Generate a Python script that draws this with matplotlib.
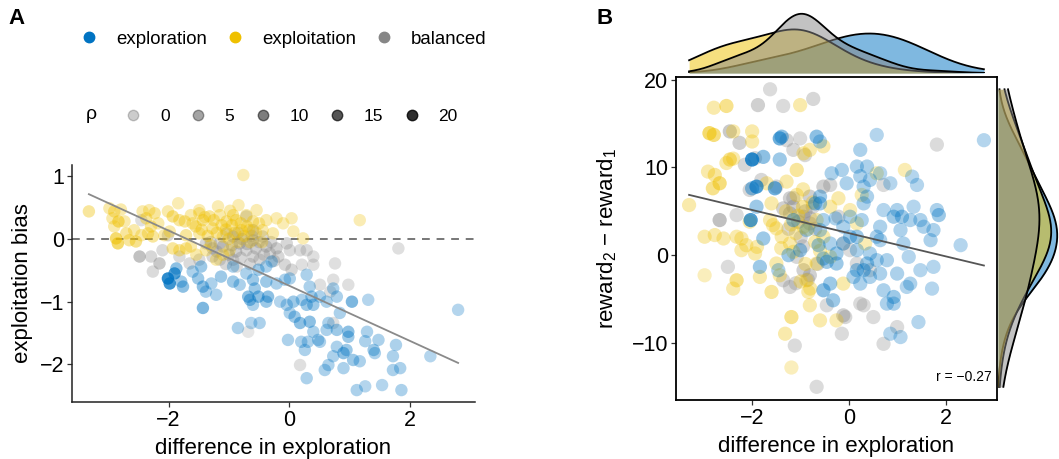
import numpy as np
import matplotlib
matplotlib.use("Agg")
import matplotlib.pyplot as plt
from matplotlib.lines import Line2D
from matplotlib.colors import to_rgb

plt.rcParams['font.family'] = ['Liberation Sans', 'DejaVu Sans']
plt.rcParams['mathtext.fontset'] = 'custom'
plt.rcParams['mathtext.rm'] = 'Liberation Sans'
plt.rcParams['mathtext.it'] = 'Liberation Sans:italic'
plt.rcParams['mathtext.default'] = 'regular'

# ---------------- data ----------------
groups = ['exploration', 'exploitation', 'balanced']
group_colors = {'exploration': '#0073C2', 'exploitation': '#EFC000', 'balanced': '#868686'}
rho_levels = [0, 5, 10, 15, 20]
rho_label = 'ρ'
xlabel = 'difference in exploration'
ylabel_a = 'exploitation bias'
ylabel_b = 'reward$_2$ − reward$_1$'
r_text = 'r = −0.27'

# panel A : (difference in exploration, exploitation bias, rho)
a_exploitation = [
    (-3.32, 0.44, 6), (-2.98, 0.49, 4), (-2.90, 0.44, 6), (-2.79, 0.47, 4), (-2.93, 0.33, 4),
    (-2.83, 0.28, 10), (-2.90, 0.20, 4), (-2.73, 0.28, 4), (-2.87, 0.01, 12), (-2.84, -0.07, 12),
    (-2.70, 0.09, 6), (-2.65, -0.02, 6), (-2.54, -0.04, 8), (-2.57, 0.14, 4), (-2.43, 0.44, 4),
    (-2.32, 0.46, 4), (-2.37, 0.33, 6), (-2.29, 0.20, 6), (-2.23, 0.41, 6), (-2.45, 0.06, 4),
    (-2.34, 0.09, 6), (-2.26, 0.04, 6), (-2.01, 0.44, 4), (-1.93, 0.36, 8), (-1.84, 0.57, 3),
    (-1.98, 0.12, 4), (-2.07, 0.06, 4), (-1.82, 0.30, 6), (-1.73, 0.28, 6), (-1.93, -0.15, 6),
    (-1.82, -0.18, 6), (-1.71, -0.15, 6), (-1.54, -0.25, 4), (-1.49, 0.41, 4), (-1.43, 0.30, 6),
    (-1.32, 0.36, 6), (-1.18, 0.52, 3), (-1.15, 0.38, 4), (-1.04, 0.28, 6), (-0.93, 0.38, 6),
    (-0.84, 0.54, 3), (-0.88, 0.30, 6), (-0.79, 0.14, 6), (-0.71, 0.38, 4), (-0.60, 0.28, 6),
    (-0.54, 0.46, 3), (-0.76, 1.02, 3), (-0.38, 0.30, 4), (-0.21, 0.33, 3), (-0.10, 0.25, 3),
    (0.04, 0.33, 3), (0.07, 0.12, 3), (0.23, 0.01, 3), (1.17, 0.30, 3), (-1.71, 0.06, 6),
    (-1.49, 0.09, 4), (-1.27, 0.17, 6), (-1.10, 0.04, 4), (-1.38, -0.18, 4), (-1.63, -0.12, 4),
    (-0.66, 0.14, 6), (-0.44, 0.14, 4), (-0.27, 0.09, 4), (-0.99, -0.18, 4), (-1.21, -0.33, 4),
    (-2.17, 0.25, 4), (-1.49, 0.46, 3), (-1.63, 0.38, 4),
    (-1.55, 0.20, 6), (-1.45, 0.15, 6), (-1.35, 0.05, 6), (-1.25, 0.30, 6), (-1.20, 0.10, 6),
    (-1.12, 0.22, 6), (-1.05, 0.15, 6), (-1.00, 0.00, 6), (-0.95, 0.22, 6), (-0.90, 0.10, 6),
    (-0.85, -0.05, 4), (-0.80, 0.25, 6), (-0.75, 0.05, 6), (-0.70, 0.20, 6), (-0.65, -0.05, 4),
    (-0.55, 0.10, 4), (-0.50, 0.25, 4), (-1.30, -0.10, 4), (-1.40, 0.35, 4), (-1.60, 0.25, 4),
    (-0.98, 0.45, 4), (-1.10, -0.25, 4), (-0.45, -0.05, 4),
]
a_balanced = [
    (-2.48, -0.28, 10), (-2.29, -0.28, 4), (-2.15, -0.39, 8), (-2.26, -0.52, 3), (-2.10, -0.18, 3),
    (-2.01, 0.06, 4), (-2.45, 0.30, 2), (-1.82, -0.28, 3), (-1.65, -0.39, 3), (-1.49, -0.33, 3),
    (-1.38, -0.07, 4), (-1.27, -0.15, 4), (-1.15, -0.07, 4), (-1.04, 0.09, 4), (-0.93, 0.04, 6),
    (-0.82, -0.07, 6), (-0.71, -0.18, 4), (-0.93, -0.33, 3), (-1.15, -0.33, 3), (-0.87, -0.44, 3),
    (-0.71, 0.36, 4), (-0.60, 0.14, 6), (-0.44, 0.04, 4), (-0.38, -0.12, 6), (-0.21, -0.15, 6),
    (-0.04, -0.07, 4), (0.01, -0.18, 3), (0.18, -0.18, 3), (0.29, -0.18, 3), (0.40, -0.28, 2),
    (-0.07, -0.41, 4), (0.04, -0.49, 4), (0.21, -0.41, 2), (0.40, -0.41, 2), (0.76, -0.39, 2),
    (0.73, -0.65, 2), (0.51, -0.73, 2), (0.98, -0.73, 2), (1.81, -0.15, 2), (0.18, -2.01, 2),
    (-0.68, -1.48, 0), (-0.18, -0.28, 4), (-0.32, -0.23, 4), (-0.60, -0.28, 4), (-0.49, -0.33, 4),
    (-1.27, -0.28, 4), (-0.60, -0.02, 6), (0.68, -0.84, 2), (0.73, -1.34, 2),
    (-1.20, -0.20, 4), (-1.10, -0.12, 6), (-1.00, -0.25, 6), (-0.95, -0.10, 6), (-0.88, -0.20, 6),
    (-0.80, -0.30, 4), (-0.78, 0.00, 6), (-0.70, -0.08, 6), (-0.65, -0.40, 4), (-0.55, -0.15, 6),
    (-0.50, -0.05, 4), (-0.42, -0.25, 4), (-0.30, -0.05, 4), (-0.25, -0.35, 4), (-1.05, -0.40, 4),
    (-0.85, 0.10, 4), (-1.30, -0.05, 4), (-0.62, 0.05, 4),
]
a_exploration = [
    (-2.01, -0.63, 20), (-1.98, -0.71, 18), (-1.90, -0.55, 16), (-1.87, -0.47, 8), (-1.76, -0.76, 8),
    (-1.79, -0.68, 6), (-1.46, -0.44, 6), (-1.51, -0.63, 6), (-1.43, -0.76, 8), (-1.38, -0.84, 4),
    (-1.43, -1.10, 10), (-1.21, -0.89, 4), (-1.13, -0.60, 6), (-0.93, -0.68, 6), (-0.85, -1.42, 4),
    (-0.63, -1.34, 3), (-0.49, -1.34, 4), (-0.68, -0.92, 8), (-0.65, -0.97, 8), (-0.51, -0.92, 8),
    (-0.35, -0.92, 8), (-0.38, -1.00, 6), (-0.60, -1.05, 4), (-0.71, -0.55, 4), (-0.60, -0.65, 6),
    (-0.51, -0.49, 6), (-0.38, -0.68, 6), (-0.29, -0.36, 4), (-0.21, -0.71, 4), (-0.07, -0.65, 4),
    (-0.15, -1.00, 3), (-0.04, -1.05, 4), (0.07, -1.00, 6), (0.01, -1.18, 4), (0.09, -1.24, 6),
    (0.18, -1.34, 8), (0.29, -0.57, 4), (0.34, -0.76, 4), (0.37, -0.92, 6), (0.40, -1.05, 6),
    (0.21, -0.97, 4), (0.29, -1.05, 6), (0.34, -1.32, 8), (0.51, -0.92, 4), (0.62, -1.00, 4),
    (0.73, -0.79, 4), (0.79, -0.92, 4), (0.65, -1.34, 4), (0.79, -1.45, 6), (0.84, -1.18, 4),
    (0.98, -1.48, 8), (1.04, -1.00, 10), (0.98, -1.56, 6), (1.31, -0.97, 3), (1.29, -1.48, 4),
    (1.26, -1.63, 4), (1.40, -1.77, 6), (1.48, -1.61, 4), (1.77, -1.69, 4), (1.72, -1.87, 4),
    (1.84, -2.06, 4), (1.72, -2.09, 4), (1.86, -2.41, 4), (1.54, -2.33, 3), (1.26, -2.35, 3),
    (1.12, -2.41, 4), (1.17, -1.95, 4), (1.06, -1.93, 6), (0.90, -1.82, 8), (0.90, -2.06, 4),
    (0.73, -1.87, 4), (0.65, -2.01, 4), (0.59, -2.09, 4), (0.48, -1.61, 4), (0.40, -1.48, 4),
    (0.31, -1.64, 4), (0.20, -1.64, 4), (0.26, -1.77, 4), (0.29, -2.22, 4), (-0.02, -1.61, 4),
    (2.34, -1.87, 3), (2.80, -1.13, 3), (0.95, -1.77, 6), (1.42, -1.82, 4), (0.79, -1.72, 4),
    (0.51, -1.64, 4), (0.62, -1.45, 4), (0.01, -0.63, 4), (-0.38, -0.44, 4), (-0.57, -0.79, 6),
    (-0.82, -0.73, 4), (-1.29, -0.71, 4), (-1.60, -0.52, 4), (-0.93, -0.44, 4),
]

# panel B : (difference in exploration, reward2 - reward1, rho)
b_exploitation = [
    (-3.30, 5.71, 4), (-2.98, -2.29, 2), (-2.98, 2.10, 4), (-2.88, 13.9, 12), (-2.79, 13.7, 10),
    (-2.91, 9.52, 4), (-2.79, 16.8, 4), (-2.53, 17.0, 8), (-2.77, 9.14, 6), (-2.67, 8.19, 10),
    (-2.81, 7.62, 8), (-2.77, 2.29, 4), (-2.59, 1.90, 4), (-2.46, 10.9, 8), (-2.53, 10.5, 4),
    (-2.39, 11.0, 4), (-2.39, 14.1, 4), (-2.32, 2.10, 4), (-2.22, 1.90, 4), (-2.22, 0.57, 4),
    (-2.32, -2.86, 8), (-2.39, -3.81, 4), (-2.00, 14.1, 4), (-2.00, 12.95, 4), (-1.90, 0.95, 4),
    (-1.94, 0.19, 4), (-2.12, 1.14, 4), (-1.84, -2.48, 4), (-1.60, -4.19, 6), (-1.50, -0.95, 4),
    (-1.50, 3.05, 4), (-1.60, 5.90, 4), (-1.57, 3.43, 4), (-1.70, 8.19, 4), (-1.29, 8.38, 4),
    (-1.08, 9.71, 6), (-1.01, 17.1, 4), (-1.19, -12.8, 2), (-1.32, -8.95, 4), (-1.19, -7.05, 8),
    (-1.15, 0.38, 4), (-0.94, 3.24, 4), (-1.08, 6.86, 4), (-0.88, -2.86, 4), (-0.84, -4.19, 4),
    (-0.81, -5.71, 4), (-0.60, -7.43, 4), (-0.94, 11.6, 4), (-0.81, 12.0, 4), (-0.53, 12.4, 4),
    (-0.39, 5.52, 4), (-0.22, 6.48, 4), (-0.12, -3.24, 4), (-0.26, -7.43, 3), (0.02, 5.14, 3),
    (0.16, 3.62, 3), (0.26, 6.86, 3), (0.33, 1.33, 3), (1.15, 9.71, 3), (0.57, 9.33, 3),
    (-1.22, 1.33, 4), (-1.43, -2.29, 4), (-0.67, 4.00, 4), (-0.53, 2.10, 4), (-1.39, 2.10, 4),
    (-2.05, 3.81, 4), (-1.63, 4.00, 4), (-0.67, -0.95, 4), (-0.39, -0.19, 4),
    (-1.20, 3.5, 4), (-1.05, 4.5, 6), (-0.95, 5.5, 6), (-0.85, 3.0, 4), (-0.75, 6.0, 4),
    (-0.70, 1.5, 4), (-1.10, 2.5, 4), (-0.90, -1.0, 4), (-1.00, -3.0, 4), (-0.80, -3.8, 4),
    (-1.30, 5.0, 4), (-0.60, 0.5, 4), (-1.40, 0.8, 4), (-0.95, 7.5, 4),
]
b_balanced = [
    (-1.63, 18.9, 3), (-1.88, 17.1, 6), (-1.36, 17.0, 3), (-0.74, 17.8, 4), (-2.67, 4.00, 10),
    (-2.46, 14.1, 8), (-2.26, 12.8, 6), (-2.15, 10.3, 4), (-2.32, 4.57, 3), (-2.50, -1.33, 3),
    (-1.94, 11.05, 4), (-2.05, 7.43, 4), (-1.81, 8.57, 4), (-1.50, 7.81, 4), (-1.15, 12.0, 4),
    (-1.01, 13.3, 3), (-0.91, 11.4, 4), (-1.15, 5.52, 6), (-0.94, 4.38, 6), (-1.22, 4.76, 6),
    (-1.36, 5.33, 6), (-0.81, 3.62, 4), (-0.53, 7.81, 6), (-0.39, 8.00, 4), (-0.22, 4.38, 4),
    (-0.12, 1.33, 4), (0.02, 0.57, 3), (0.23, -5.52, 3), (0.30, -5.71, 3), (0.50, -7.05, 3),
    (-0.12, -6.86, 6), (-0.08, -7.05, 4), (-0.15, -8.95, 3), (-1.12, -10.3, 3), (-0.67, -15.0, 3),
    (0.71, -10.1, 3), (0.99, -8.19, 3), (1.81, 12.6, 3), (-1.36, -2.86, 4), (-1.22, -3.62, 4),
    (-0.94, -1.71, 6), (-0.81, -2.29, 6), (-1.08, -0.19, 4), (-0.46, -5.71, 3), (0.71, 8.00, 3),
    (0.43, -1.71, 3), (0.16, -0.95, 3), (-1.29, 13.1, 4), (-1.22, 6.48, 6), (-0.81, 6.67, 6),
    (-1.05, 3.8, 6), (-0.90, 5.0, 6), (-0.80, 4.2, 4), (-1.15, 6.5, 4), (-0.70, 3.0, 4),
    (-1.00, 2.0, 4), (-0.85, -2.8, 4), (-1.10, -3.2, 4), (-0.65, -1.0, 4), (-0.95, 1.0, 4),
    (-0.75, 5.5, 4), (-1.25, 3.0, 4),
]
b_exploration = [
    (-2.00, 10.9, 20), (-2.03, 4.00, 16), (-1.91, 7.81, 16), (-2.00, 7.62, 8), (-1.77, 11.2, 8),
    (-1.43, 13.3, 12), (-1.39, 13.5, 8), (-1.43, 10.9, 6), (-1.53, 7.62, 12), (-1.91, 5.52, 6),
    (-1.77, 1.90, 6), (-1.84, -1.33, 6), (-1.46, -1.71, 4), (-1.25, 0.00, 6), (-1.01, 0.57, 6),
    (-1.15, 4.00, 6), (-0.67, 13.5, 8), (-0.60, 12.95, 4), (-0.60, 6.67, 6), (-0.60, 5.90, 6),
    (-0.63, 1.14, 6), (-0.53, -0.38, 6), (-0.53, -4.0, 8), (-0.33, -5.14, 6), (-0.46, -0.76, 6),
    (-0.26, -0.95, 6), (-0.39, -3.24, 6), (-0.26, 0.19, 6), (-0.12, 1.33, 4), (-0.12, 3.24, 4),
    (0.02, 4.38, 4), (0.02, 2.10, 6), (0.16, 2.10, 6), (0.16, 0.57, 4), (0.26, 4.00, 4),
    (0.30, 5.90, 4), (0.37, 6.67, 4), (0.30, 7.81, 4), (0.23, 9.0, 4), (0.16, 10.1, 4),
    (0.37, 10.1, 4), (0.23, 12.0, 4), (0.57, 13.7, 3), (0.43, 8.57, 4), (-0.15, 9.71, 4),
    (-0.36, 9.33, 4), (-0.05, 8.19, 4), (0.37, -0.95, 6), (0.30, -1.71, 6), (0.16, -1.71, 6),
    (0.09, -2.48, 4), (0.23, -3.24, 4), (0.43, -2.48, 4), (0.57, -0.57, 4), (0.57, 2.10, 4),
    (0.64, 3.24, 4), (0.64, 1.71, 4), (0.71, 5.14, 3), (0.64, 9.33, 3), (0.85, 8.19, 3),
    (0.92, 4.38, 6), (0.99, 5.14, 4), (1.09, 4.38, 6), (1.06, 2.86, 4), (1.12, 1.33, 4),
    (1.23, -0.19, 3), (1.26, 4.0, 4), (1.33, 5.52, 3), (1.30, 8.95, 3), (1.40, 8.00, 3),
    (1.47, 4.0, 4), (1.54, 3.24, 4), (1.68, 1.71, 4), (1.74, 2.86, 4), (1.81, 5.14, 4),
    (1.85, 4.57, 6), (1.47, -1.71, 3), (1.74, -1.33, 3), (1.71, -3.81, 3), (1.26, -3.24, 4),
    (1.19, -3.62, 3), (0.92, -4.76, 6), (0.78, -5.52, 4), (0.71, -4.0, 4), (0.92, -5.52, 4),
    (1.06, -9.33, 3), (0.85, -8.95, 3), (1.43, -7.62, 3), (2.30, 1.14, 3), (2.78, 13.1, 3),
    (0.78, -0.57, 4), (0.99, -2.10, 4), (0.64, -2.10, 4), (-0.70, 5.90, 6), (-0.53, 4.00, 4),
    (-0.28, 4.19, 4), (-0.88, 2.86, 4), (-0.60, 2.86, 4), (-0.39, 1.33, 4), (0.43, 0.19, 4),
]

panel_a = {'exploration': a_exploration, 'exploitation': a_exploitation, 'balanced': a_balanced}
panel_b = {'exploration': b_exploration, 'exploitation': b_exploitation, 'balanced': b_balanced}
draw_order = ['balanced', 'exploitation', 'exploration']


def rho_alpha(rho):
    return np.clip(0.2 + 0.031 * np.asarray(rho, float), 0, 1)


def rgba(color, rho):
    r, g, b = to_rgb(color)
    a = rho_alpha(rho)
    out = np.zeros((len(a), 4))
    out[:, 0], out[:, 1], out[:, 2], out[:, 3] = r, g, b, a
    return out


def kde(v, grid, adjust=1.0):
    v = np.asarray(v, float)
    n = len(v)
    sd = v.std(ddof=1)
    q75, q25 = np.percentile(v, [75, 25])
    bw = adjust * 0.9 * min(sd, (q75 - q25) / 1.34) * n ** -0.2
    z = (grid[:, None] - v[None, :]) / bw
    return np.exp(-0.5 * z ** 2).sum(1) / (n * bw * np.sqrt(2 * np.pi))


W, H = 1059, 459
fig = plt.figure(figsize=(W / 100, H / 100), dpi=100)


def box(l, t, r, b):
    return [l / W, 1 - b / H, (r - l) / W, (b - t) / H]


TICK_FS = 15.5
LAB_FS = 16

# ---------------- panel A ----------------
axA = fig.add_axes(box(72, 165, 475, 402))
for g in draw_order:
    arr = np.array(panel_a[g])
    axA.scatter(arr[:, 0], arr[:, 1], s=80, c=rgba(group_colors[g], arr[:, 2]),
                edgecolors='none', zorder=2)
allA = np.vstack([np.array(panel_a[g]) for g in groups])
kA = np.polyfit(allA[:, 0], allA[:, 1], 1)
xsA = np.array([allA[:, 0].min(), allA[:, 0].max()])
axA.plot(xsA, np.polyval(kA, xsA), color='#8a8a8a', lw=1.3, zorder=3)
axA.axhline(0, color='#777777', lw=1.4, ls=(0, (4, 3.5)), zorder=1)
axA.set_xlim(-3.6, 3.08)
axA.set_ylim(-2.6, 1.18)
axA.set_xticks([-2, 0, 2])
axA.set_yticks([-2, -1, 0, 1])
for s in ['top', 'right']:
    axA.spines[s].set_visible(False)
for s in ['left', 'bottom']:
    axA.spines[s].set_linewidth(1.1)
    axA.spines[s].set_color('#222222')
axA.tick_params(labelsize=TICK_FS, length=3.5, width=0.9, color='#333333', pad=2)
axA.set_xlabel(xlabel, fontsize=LAB_FS, labelpad=5)
axA.set_ylabel(ylabel_a, fontsize=LAB_FS, labelpad=5)

# ---------------- panel B ----------------
axB = fig.add_axes(box(676, 77, 997, 400))
for g in draw_order:
    arr = np.array(panel_b[g])
    axB.scatter(arr[:, 0], arr[:, 1], s=105, c=rgba(group_colors[g], arr[:, 2]),
                edgecolors='none', zorder=2)
allB = np.vstack([np.array(panel_b[g]) for g in groups])
kB = np.polyfit(allB[:, 0], allB[:, 1], 1)
xsB = np.array([allB[:, 0].min(), allB[:, 0].max()])
axB.plot(xsB, np.polyval(kB, xsB), color='#555555', lw=1.3, zorder=3)
axB.set_xlim(-3.57, 3.05)
axB.set_ylim(-16.5, 20.3)
axB.set_xticks([-2, 0, 2])
axB.set_yticks([-10, 0, 10, 20])
for s in axB.spines.values():
    s.set_linewidth(1.3)
    s.set_color('black')
axB.tick_params(labelsize=TICK_FS, length=3.5, width=0.9, color='#333333', pad=2)
axB.set_xlabel(xlabel, fontsize=LAB_FS, labelpad=5)
axB.set_ylabel(ylabel_b, fontsize=LAB_FS, labelpad=9)
axB.text(0.985, 0.05, r_text, transform=axB.transAxes, ha='right', va='bottom', fontsize=10)

# marginal densities of panel B
gridx = np.linspace(allB[:, 0].min(), allB[:, 0].max(), 300)
gridy = np.linspace(allB[:, 1].min(), allB[:, 1].max(), 300)
dens_x = {g: kde(np.array(panel_b[g])[:, 0], gridx, 1.7) for g in groups}
dens_y = {g: kde(np.array(panel_b[g])[:, 1], gridy, 1.5) for g in groups}

axT = fig.add_axes(box(676, 12, 997, 73))
axR = fig.add_axes(box(998, 77, 1059, 400))
for i, g in enumerate(groups):
    axT.fill_between(gridx, 0, dens_x[g], color=group_colors[g], alpha=0.5, lw=0, zorder=2 * i)
    axT.plot(gridx, dens_x[g], color='black', lw=1.3, zorder=2 * i + 1)
    axR.fill_betweenx(gridy, 0, dens_y[g], color=group_colors[g], alpha=0.5, lw=0, zorder=2 * i)
    axR.plot(dens_y[g], gridy, color='black', lw=1.3, zorder=2 * i + 1)
axT.set_xlim(axB.get_xlim())
axT.set_ylim(0, max(d.max() for d in dens_x.values()) * 1.03)
axR.set_ylim(axB.get_ylim())
axR.set_xlim(0, max(d.max() for d in dens_y.values()) * 1.03)
for ax in (axT, axR):
    ax.axis('off')

# ---------------- legends ----------------
h1 = [Line2D([], [], marker='o', ls='', color=group_colors[g], markersize=7.5) for g in groups]
leg1 = fig.legend(h1, groups, loc='center left', bbox_to_anchor=(79.7 / W, 1 - 39 / H),
                  ncol=3, frameon=False, handlelength=1.0, handletextpad=0.95,
                  columnspacing=1.0, borderpad=0, borderaxespad=0, fontsize=13.4)
h2 = [Line2D([], [], marker='o', ls='', color='black', alpha=float(rho_alpha(r)), markersize=7.5)
      for r in rho_levels]
leg2 = fig.legend(h2, [str(r) for r in rho_levels], loc='center left',
                  bbox_to_anchor=(124.5 / W, 1 - 116 / H), ncol=5, frameon=False,
                  handlelength=1.0, handletextpad=1.05, columnspacing=1.12,
                  borderpad=0, borderaxespad=0, fontsize=12.5)
fig.text(91 / W, 1 - 115 / H, rho_label, fontsize=14, ha='center', va='center')

fig.text(8 / W, 1 - 18 / H, 'A', fontsize=16, fontweight='bold', ha='left', va='center')
fig.text(596 / W, 1 - 18 / H, 'B', fontsize=16, fontweight='bold', ha='left', va='center')

fig.savefig('out.png', dpi=100)
